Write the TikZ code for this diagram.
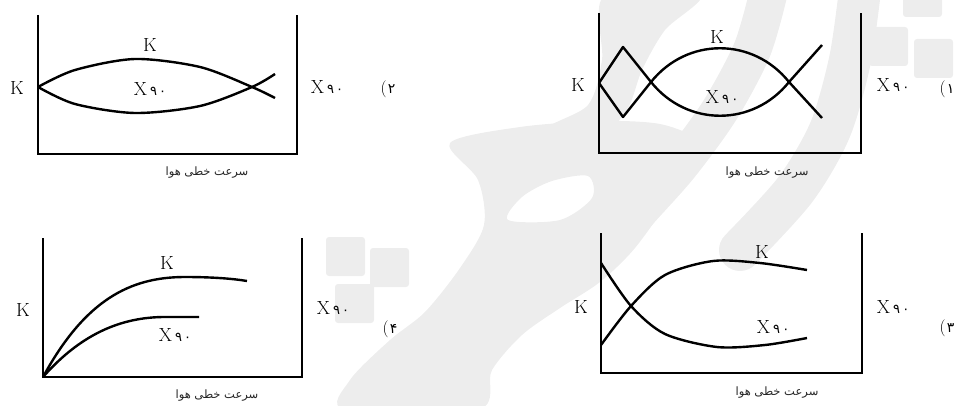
\documentclass[tikz,border=0pt]{standalone}
\usepackage{fontspec}
\usepackage{tikz}
\newfontfamily\arabicfont[Script=Arabic]{DejaVu Sans}
\TeXXeTstate=1
\tikzset{>=stealth}
\tikzset{
  axis/.style={line width=1.6pt},
  curve/.style={line width=2.4pt, line join=round},
  lbl/.style={font=\fontsize{19}{19}\selectfont, inner sep=0pt},
  fa/.style={font=\arabicfont\fontsize{11.5}{11.5}\selectfont, inner sep=0pt, text=black!85},
  num/.style={font=\fontsize{17}{17}\selectfont, inner sep=0pt},
  wm/.style={fill=gray!14, draw=none},
  wmband/.style={draw=gray!14, line width=42pt, line cap=round}
}
\newcommand{\xnn}{X\,{\arabicfont\fontsize{13}{13}\selectfont ۹\,۰}}
\newcommand{\speed}{\beginR سرعت خطی هوا\endR}
\newcommand{\choice}[1]{(\kern1pt{\arabicfont\fontsize{14}{14}\selectfont #1}}

\begin{document}
\begin{tikzpicture}[x=1pt, y=-1pt]
    \useasboundingbox (0,0) rectangle (957,406);
    % watermark
    \fill[wm, even odd rule] plot[smooth cycle] coordinates {(450,143) (520,127) (600,121) (660,124) (697,140) (680,162) (668,200) (635,248) (600,282) (560,308) (522,335) (492,370) (478,410) (345,410) (350,380) (390,340) (425,312) (460,268) (484,225) (478,180)}
        plot[smooth cycle] coordinates {(508,220) (522,197) (552,181) (588,176) (592,198) (560,220)};
    \fill[wm] plot[smooth cycle] coordinates {(605,-5) (700,-5) (665,30) (642,70) (628,108) (600,140) (560,160) (545,130) (588,105) (602,60)};
    \draw[wmband, line width=38pt] plot[smooth] coordinates {(768,-5) (752,50) (720,110) (680,165) (640,210) (600,255)};
    \draw[wmband] plot[smooth] coordinates {(860,-10) (850,60) (830,130) (795,190) (740,250)};
    \foreach \x/\y in {326/237, 370/248, 335/284, 903/-22, 869/27, 914/39}
        \fill[wm, rounded corners=3pt] (\x,\y) rectangle ++(39,39);

    % (2) top left
    \draw[axis] (38,15) -- (38,154) -- (297,154) -- (297,15);
    \draw[curve] plot[smooth] coordinates {(38,87) (75,70) (135,59) (200,67) (252,87) (275,98)};
    \draw[curve] plot[smooth] coordinates {(38,87) (75,104) (135,113) (200,106) (252,87) (275,74)};
    \node[lbl] (kL2) at (17,88) {K};
    \node[lbl] (kT2) at (150,45) {K};
    \node[lbl] (xI2) at (150,89) {\xnn};
    \node[lbl] (xR2) at (327,87) {\xnn};
    \node[num] (n2) at (388,89) {\choice{۲}};
    \node[fa] (ax2) at (207,173) {\speed};

    % (1) top right
    \draw[axis] (599,13) -- (599,153) -- (861,153) -- (861,13);
    \draw[curve] (599,83) -- (623,47) -- (651,82) .. controls (687,127) and (753,127) .. (789,82) -- (822,45);
    \draw[curve] (599,83) -- (623,117) -- (651,82) .. controls (687,37) and (753,37) .. (789,82) -- (822,118);
    \node[lbl] (kL1) at (578,85) {K};
    \node[lbl] (kT1) at (717,37) {K};
    \node[lbl] (xI1) at (722,97) {\xnn};
    \node[lbl] (xR1) at (893,85) {\xnn};
    \node[num] (n1) at (947,89) {\choice{۱}};
    \node[fa] (ax1) at (767,173) {\speed};

    % (4) bottom left
    \draw[axis] (43,238) -- (43,377) -- (302,377) -- (302,238);
    \draw[curve] (43,377) .. controls (85,300) and (130,277) .. (185,277) .. controls (215,277) and (235,279) .. (247,281);
    \draw[curve] (43,377) .. controls (80,335) and (120,317) .. (165,317) -- (199,317);
    \node[lbl] (kL4) at (23,310) {K};
    \node[lbl] (kT4) at (167,263) {K};
    \node[lbl] (xI4) at (175,335) {\xnn};
    \node[lbl] (xR4) at (333,308) {\xnn};
    \node[num] (n4) at (390,329) {\choice{۴}};
    \node[fa] (ax4) at (217,396) {\speed};

    % (3) bottom right
    \draw[axis] (601,233) -- (601,373) -- (862,373) -- (862,233);
    \draw[curve] plot[smooth] coordinates {(601,345) (631,306) (665,275) (713,261) (760,263) (807,270)};
    \draw[curve] plot[smooth] coordinates {(601,263) (631,306) (665,334) (717,347) (765,345) (807,338)};
    \node[lbl] (kL3) at (581,307) {K};
    \node[lbl] (kT3) at (762,252) {K};
    \node[lbl] (xI3) at (773,327) {\xnn};
    \node[lbl] (xR3) at (893,307) {\xnn};
    \node[num] (n3) at (947,328) {\choice{۳}};
    \node[fa] (ax3) at (777,393) {\speed};
\end{tikzpicture}
\end{document}
